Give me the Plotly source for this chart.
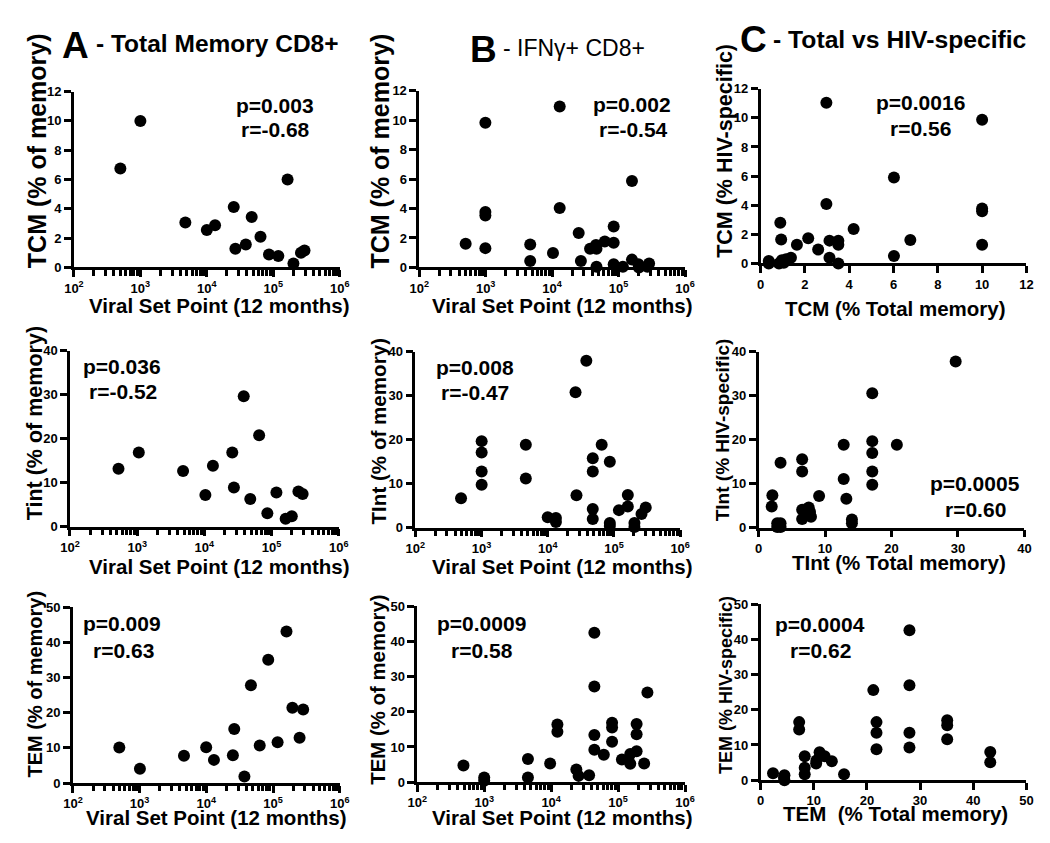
import plotly.graph_objects as go

W, H = 1050, 843
FONT = "Liberation Sans, Arial, Helvetica, sans-serif"

# ---------------- data ----------------
# Column A: total memory CD8+ subsets vs viral set point
a_tcm_vl = [500, 1000, 4750, 10000, 13300, 25400, 26900, 38600, 47300, 64200, 86100, 119000, 164000, 201000, 261000, 295000]
a_tcm = [6.75, 10.0, 3.06, 2.55, 2.88, 4.13, 1.27, 1.56, 3.44, 2.1, 0.89, 0.78, 6.0, 0.27, 1.0, 1.16]

a_tint_vl = [527, 1057, 4820, 10350, 13400, 26000, 27500, 38500, 48200, 65300, 86500, 118000, 162000, 200000, 251000, 290000]
a_tint = [13.2, 16.9, 12.66, 7.2, 13.9, 16.9, 8.9, 29.7, 6.3, 20.8, 3.05, 7.8, 1.8, 2.4, 8.0, 7.45]

a_tem_vl = [496, 1010, 4620, 9950, 13000, 25000, 26200, 37200, 46600, 63100, 84700, 117000, 159000, 195000, 250000, 283000]
a_tem = [10.15, 4.1, 7.8, 10.2, 6.6, 7.9, 15.4, 1.86, 27.8, 10.7, 35.1, 11.6, 43.1, 21.4, 12.9, 20.9]

# Column B: IFN-gamma+ CD8+ subsets vs viral set point
b_tcm_vl = [500, 990, 990, 990, 990, 4680, 4680, 10300, 13000, 13000, 25100, 27100, 37200, 45700, 46500,
            46500, 62000, 84400, 84400, 84400, 116000, 159000, 159000, 199000, 202000, 271000, 288000]
b_tcm = [1.6, 9.82, 3.76, 3.53, 1.31, 1.56, 0.44, 0.98, 10.93, 4.04, 2.33, 0.44, 1.27, 1.53, 1.27,
         0.04, 1.76, 2.78, 1.67, 0.22, 0.04, 0.53, 5.87, 0.22, 0.0, 0.04, 0.27]

b_tint_vl = [491, 1005, 1005, 1005, 1005, 4670, 4670, 10000, 13300, 13300, 26300, 27200, 38300, 47900, 47900,
             47900, 47900, 65300, 86700, 86700, 86700, 119000, 162000, 162000, 204000, 204000, 261000, 302000]
b_tint = [6.7, 19.7, 17.1, 12.8, 9.8, 18.9, 11.2, 2.4, 2.2, 1.3, 30.8, 7.4, 38.0, 15.8, 12.8,
          4.25, 2.0, 18.9, 15.0, 1.1, 0.4, 4.0, 7.45, 4.84, 1.1, 0.15, 3.1, 4.6]

b_tem_vl = [490, 1000, 1000, 4500, 4500, 9660, 12400, 12400, 23800, 25700, 36900, 44200, 44200, 44200,
            44200, 61200, 81300, 81300, 81300, 114000, 152000, 152000, 189000, 189000, 189000, 245000, 274000]
b_tem = [4.75, 1.3, 0.37, 6.6, 1.3, 5.3, 16.4, 14.3, 3.6, 1.77, 1.96, 42.5, 27.2, 13.4,
         9.2, 7.8, 16.9, 15.5, 11.5, 6.4, 8.0, 5.2, 16.5, 13.6, 8.75, 5.3, 25.5]

# Column C: total vs HIV-specific
c_tcm_total = [0.37, 0.37, 0.89, 0.93, 0.83, 0.96, 1.05, 1.15, 1.37, 1.64, 2.15, 2.6, 2.97, 2.97,
               3.11, 3.11, 3.51, 3.51, 3.51, 4.2, 6.02, 6.02, 6.76, 10.0, 10.0, 10.0, 10.0]
c_tcm_hiv = [0.18, 0.0, 2.8, 1.64, 0.0, 0.22, 0.05, 0.29, 0.4, 1.28, 1.73, 0.96, 11.04, 4.08,
             1.57, 0.4, 1.57, 1.28, 0.0, 2.36, 5.9, 0.52, 1.62, 9.87, 3.77, 3.59, 1.28]

c_tint_total = [2.07, 1.97, 2.8, 2.8, 3.3, 3.3, 3.3, 6.55, 6.55, 6.55, 6.55, 7.54, 7.73, 7.88, 9.1,
                12.8, 12.8, 13.2, 14.04, 14.04, 17.1, 17.1, 17.1, 17.1, 17.1, 20.8, 29.65]
c_tint_hiv = [7.4, 4.8, 1.04, 0.15, 1.04, 0.15, 14.8, 15.6, 12.8, 4.1, 2.0, 4.6, 3.6, 2.5, 7.2,
              18.85, 11.1, 6.6, 1.86, 1.04, 30.6, 19.7, 17.0, 12.8, 9.8, 18.85, 37.8]

c_tem_total = [2.34, 4.49, 4.49, 4.4, 7.26, 7.26, 8.3, 8.3, 8.3, 10.45, 10.5, 11.1, 12.05, 13.4,
               15.7, 21.2, 21.8, 21.8, 21.8, 28.0, 28.0, 28.0, 28.0, 35.1, 35.1, 35.1, 43.2, 43.2]
c_tem_hiv = [1.95, 1.4, 0.0, 0.7, 16.5, 14.4, 6.8, 3.5, 1.7, 4.7, 5.6, 7.9, 6.8, 5.4,
             1.7, 25.6, 16.5, 13.5, 8.8, 42.6, 27.0, 13.5, 9.3, 17.0, 15.6, 11.6, 8.0, 5.1]

log_tickvals = [1e2, 1e3, 1e4, 1e5, 1e6]
log_ticktext = ["10<sup>2</sup>", "10<sup>3</sup>", "10<sup>4</sup>", "10<sup>5</sup>", "10<sup>6</sup>"]
log_minor_vals = [m * d for d in (1e2, 1e3, 1e4, 1e5) for m in range(2, 10)]

stats = [("p=0.003", "r=-0.68"), ("p=0.002", "r=-0.54"), ("p=0.0016", "r=0.56"),
         ("p=0.036", "r=-0.52"), ("p=0.008", "r=-0.47"), ("p=0.0005", "r=0.60"),
         ("p=0.009", "r=0.63"), ("p=0.0009", "r=0.58"), ("p=0.0004", "r=0.62")]

x_titles = ["Viral Set Point (12 months)", "Viral Set Point (12 months)", "TCM (% Total memory)",
            "Viral Set Point (12 months)", "Viral Set Point (12 months)", "TInt (% Total memory)",
            "Viral Set Point (12 months)", "Viral Set Point (12 months)", "TEM  (% Total memory)"]
y_titles = ["TCM (% of memory)", "TCM (% of memory)", "TCM (% HIV-specific)",
            "Tint (% of memory)", "TInt (% of memory)", "TInt (% HIV-specific)",
            "TEM (% of memory)", "TEM (% of memory)", "TEM (% HIV-specific)"]

panels_data = [
    (a_tcm_vl, a_tcm), (b_tcm_vl, b_tcm), (c_tcm_total, c_tcm_hiv),
    (a_tint_vl, a_tint), (b_tint_vl, b_tint), (c_tint_total, c_tint_hiv),
    (a_tem_vl, a_tem), (b_tem_vl, b_tem), (c_tem_total, c_tem_hiv),
]

# ---------------- layout geometry (pixels) ----------------
# plot boxes: (left, right, top, bottom)
boxes = [(57, 328, 78, 257), (409, 680, 77, 257), (757, 1028, 75, 253),
         (53, 327, 342, 521), (405, 675, 343, 522), (755, 1026, 343, 522),
         (56, 328, 603, 782), (407, 680, 602, 781), (757, 1028, 600, 779)]
y_ranges = [12, 12, 12, 40, 40, 40, 50, 50, 50]
y_dticks = [2, 2, 2, 10, 10, 10, 10, 10, 10]
x_lin_ranges = {2: (12, 2), 5: (40, 10), 8: (50, 10)}

stat_pos = [((262, 92), (263, 117)), ((626, 91), (627, 117)), ((920, 89.5), (920, 116)),
            ((106, 358), (107, 383.5)), ((466, 358.5), (466, 384)), ((976, 476.5), (976, 503)),
            ((106, 620), (107.5, 647)), ((473, 620), (472.5, 647)), ((818, 620.5), (818, 647.5))]
xt_pos = [(205, 296), (555, 296), (895, 299), (205, 561), (555, 561), (898, 557),
          (202, 817), (555, 817), (895, 813)]
yt_pos = [(19, 138, 25), (369, 138, 25), (720, 138, 21.5), (17.5, 415.5, 21.5), (367.5, 423.5, 20.6),
          (719, 422.5, 19), (17.5, 681.5, 20), (367, 687, 20.4), (722.5, 682.5, 18)]


def px(x):
    return x / W


def py(y):
    return 1 - y / H


fig = go.Figure()
layout = dict(width=W, height=H, margin=dict(l=0, r=0, t=0, b=0),
              paper_bgcolor="white", plot_bgcolor="white", showlegend=False,
              font=dict(family=FONT, color="black"))
annotations = []

tickfont = dict(family=FONT, size=13, color="black", weight="bold")
axis_common = dict(showline=True, linecolor="black", linewidth=2.5, ticks="outside",
                   ticklen=7, tickwidth=2.5, tickcolor="black", showgrid=False,
                   zeroline=False, tickfont=tickfont, fixedrange=True)

for i, (xs, ys) in enumerate(panels_data):
    n = i + 1
    xa = "x" if n == 1 else f"x{n}"
    ya = "y" if n == 1 else f"y{n}"
    fig.add_trace(go.Scatter(x=xs, y=ys, mode="markers", xaxis=xa, yaxis=ya,
                             marker=dict(size=12, color="black"), cliponaxis=False))
    l, r, t, b = boxes[i]
    xkey = "xaxis" if n == 1 else f"xaxis{n}"
    ykey = "yaxis" if n == 1 else f"yaxis{n}"
    if i % 3 == 2:
        rng, dt = x_lin_ranges[i]
        xax = dict(axis_common, type="linear", range=[0, rng], dtick=dt, tick0=0)
    else:
        xax = dict(axis_common, type="log", range=[2, 6], tickmode="array",
                   tickvals=log_tickvals, ticktext=log_ticktext,
                   minor=dict(ticks="outside", ticklen=5.5, tickwidth=2.5, tickcolor="black",
                              dtick="D1", showgrid=False))
    xax.update(domain=[px(l), px(r)], anchor=ya)
    yax = dict(axis_common, type="linear", range=[0, y_ranges[i]], dtick=y_dticks[i], tick0=0,
               domain=[py(b), py(t)], anchor=xa)
    layout[xkey] = xax
    layout[ykey] = yax

    # stats text
    for txt, (sx, sy) in zip(stats[i], stat_pos[i]):
        annotations.append(dict(text=txt, x=px(sx), y=py(sy), xref="paper", yref="paper",
                                xanchor="center", yanchor="middle", showarrow=False,
                                font=dict(family=FONT, size=21, color="black", weight="bold")))
    # axis titles
    tx, ty = xt_pos[i]
    annotations.append(dict(text=x_titles[i], x=px(tx), y=py(ty), xref="paper", yref="paper",
                            xanchor="center", yanchor="middle", showarrow=False,
                            font=dict(family=FONT, size=20.5, color="black", weight="bold")))
    yx, yy, fs = yt_pos[i]
    annotations.append(dict(text=y_titles[i], x=px(yx), y=py(yy), xref="paper", yref="paper",
                            xanchor="center", yanchor="middle", showarrow=False, textangle=-90,
                            font=dict(family=FONT, size=fs, color="black", weight="bold")))

# column titles
col_letters = [("A", 59, 31.5), ("B", 475, 35), ("C", 750, 25)]
col_texts = [("- Total Memory CD8+", 77, 29, 24.5, "bold"),
             ("- IFN\u03b3+ CD8+", 492, 34, 23, "normal"),
             ("- Total vs HIV-specific", 768, 25, 24.7, "bold")]
for (letter, lx, ly), (txt, tx, ty, fs, wt) in zip(col_letters, col_texts):
    annotations.append(dict(text=letter, x=px(lx), y=py(ly), xref="paper", yref="paper",
                            xanchor="center", yanchor="middle", showarrow=False,
                            font=dict(family=FONT, size=37, color="black", weight="bold")))
    annotations.append(dict(text=txt, x=px(tx), y=py(ty), xref="paper", yref="paper",
                            xanchor="left", yanchor="middle", showarrow=False,
                            font=dict(family=FONT, size=fs, color="black", weight=wt)))

layout["annotations"] = annotations
fig.update_layout(**layout)
fig.write_html("out.html")
